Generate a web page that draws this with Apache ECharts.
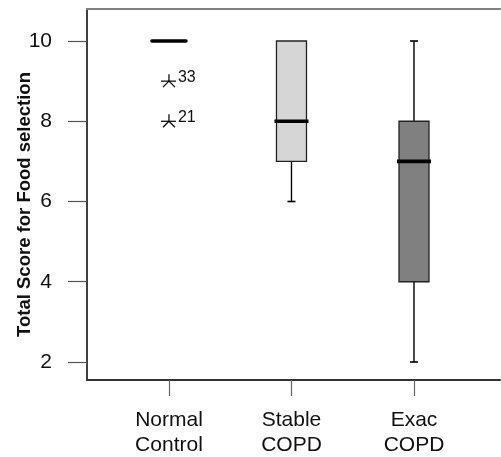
<!DOCTYPE html>
<html><head><meta charset="utf-8">
<script src="https://cdn.jsdelivr.net/npm/echarts@6/dist/echarts.min.js"></script>
<style>html,body{margin:0;padding:0;background:#fff}#c{width:501px;height:457px}</style>
</head><body><div id="c"></div>
<script>
const categories = ['Normal\nControl', 'Stable\nCOPD', 'Exac\nCOPD'];
const boxMin = [10, 6, 2];
const boxQ1 = [10, 7, 4];
const boxMedian = [10, 8, 7];
const boxQ3 = [10, 10, 8];
const boxMax = [10, 10, 10];
const boxColors = ['#ffffff', '#d6d6d6', '#808080'];
const outlierGroup = [0, 0];
const outlierValues = [9, 8];
const outlierLabels = ['33', '21'];
const yTicks = [2, 4, 6, 8, 10];
const catTicks = [0, 1, 2];

const FONT = '"Liberation Sans", Arial, Helvetica, sans-serif';
const boxData = categories.map((c, i) => [i, boxMin[i], boxQ1[i], boxMedian[i], boxQ3[i], boxMax[i]]);
const outData = outlierGroup.map((g, i) => [g, outlierValues[i]]);

function renderBox(params, api) {
  const i = api.value(0);
  const pMin = api.coord([i, api.value(1)]);
  const pQ1 = api.coord([i, api.value(2)]);
  const pMed = api.coord([i, api.value(3)]);
  const pQ3 = api.coord([i, api.value(4)]);
  const pMax = api.coord([i, api.value(5)]);
  const cx = pMed[0];
  const half = 15, capHalf = 4, medHalf = 17;
  const ch = [];
  const ln = { stroke: '#000', lineWidth: 1.4 };
  if (pMax[1] < pQ3[1] - 0.5) {
    ch.push({ type: 'line', shape: { x1: cx, y1: pQ3[1], x2: cx, y2: pMax[1] }, style: ln });
    ch.push({ type: 'line', shape: { x1: cx - capHalf, y1: pMax[1], x2: cx + capHalf, y2: pMax[1] }, style: { stroke: '#000', lineWidth: 1.6 } });
  }
  if (pMin[1] > pQ1[1] + 0.5) {
    ch.push({ type: 'line', shape: { x1: cx, y1: pQ1[1], x2: cx, y2: pMin[1] }, style: ln });
    ch.push({ type: 'line', shape: { x1: cx - capHalf, y1: pMin[1], x2: cx + capHalf, y2: pMin[1] }, style: { stroke: '#000', lineWidth: 1.6 } });
  }
  if (pQ1[1] - pQ3[1] > 0.5) {
    ch.push({ type: 'rect', shape: { x: cx - half, y: pQ3[1], width: half * 2, height: pQ1[1] - pQ3[1] },
      style: { fill: boxColors[params.dataIndex], stroke: '#222', lineWidth: 1.3 } });
  }
  ch.push({ type: 'line', shape: { x1: cx - medHalf, y1: pMed[1], x2: cx + medHalf, y2: pMed[1] },
    style: { stroke: '#000', lineWidth: 3.6, lineCap: params.dataIndex === 0 ? 'round' : 'butt' } });
  return { type: 'group', children: ch };
}

function renderOutlier(params, api) {
  const p = api.coord([api.value(0), api.value(1)]);
  const x = p[0], y = p[1];
  const st = { stroke: '#000', lineWidth: 1.2 };
  return {
    type: 'group',
    children: [
      { type: 'line', shape: { x1: x - 8, y1: y, x2: x + 7, y2: y }, style: st },
      { type: 'line', shape: { x1: x, y1: y, x2: x, y2: y - 7 }, style: st },
      { type: 'line', shape: { x1: x, y1: y, x2: x - 6, y2: y + 6 }, style: st },
      { type: 'line', shape: { x1: x, y1: y, x2: x + 6, y2: y + 6 }, style: st },
      { type: 'text', style: { x: x + 9, y: y - 4, text: outlierLabels[params.dataIndex], fill: '#111',
        font: '16px ' + FONT, textAlign: 'left', textVerticalAlign: 'middle' } }
    ]
  };
}

const chart = echarts.init(document.getElementById('c'), null, { renderer: 'canvas' });
chart.setOption({
  animation: false,
  backgroundColor: '#fff',
  grid: { left: 87, right: 1, top: 9, bottom: 77, containLabel: false, outerBoundsMode: 'none' },
  xAxis: [{
    type: 'value', min: -0.669, max: 2.702, position: 'bottom',
    axisLine: { show: true, onZero: false, lineStyle: { color: '#333', width: 2 } },
    axisTick: { show: true, customValues: catTicks, length: 16, lineStyle: { color: '#666', width: 1.2 } },
    axisLabel: { show: true, customValues: catTicks, margin: 28, formatter: v => categories[Math.round(v)],
      color: '#111', fontSize: 21, lineHeight: 25, fontFamily: FONT },
    splitLine: { show: false }
  }, {
    type: 'value', min: -0.669, max: 2.702, position: 'top',
    axisLine: { show: true, onZero: false, lineStyle: { color: '#808080', width: 2 } },
    axisTick: { show: false }, axisLabel: { show: false }, splitLine: { show: false }
  }],
  yAxis: {
    type: 'value', min: 1.551, max: 10.798,
    name: 'Total Score for Food selection', nameLocation: 'middle', nameGap: 53, nameMoveOverlap: false,
    nameTextStyle: { fontWeight: 'bold', fontSize: 18.5, color: '#111', fontFamily: FONT, padding: [0, 20, 0, 0] },
    axisLine: { show: true, onZero: false, lineStyle: { color: '#000', width: 1.5 } },
    axisTick: { show: true, customValues: yTicks, length: 19, lineStyle: { color: '#555', width: 1.2 } },
    axisLabel: { show: true, customValues: yTicks, margin: 35, color: '#111', fontSize: 21, fontFamily: FONT },
    splitLine: { show: false }
  },
  series: [
    { type: 'custom', xAxisIndex: 0, renderItem: renderBox, data: boxData, z: 3, silent: true },
    { type: 'custom', xAxisIndex: 0, renderItem: renderOutlier, data: outData, z: 4, silent: true }
  ]
});
</script></body></html>
